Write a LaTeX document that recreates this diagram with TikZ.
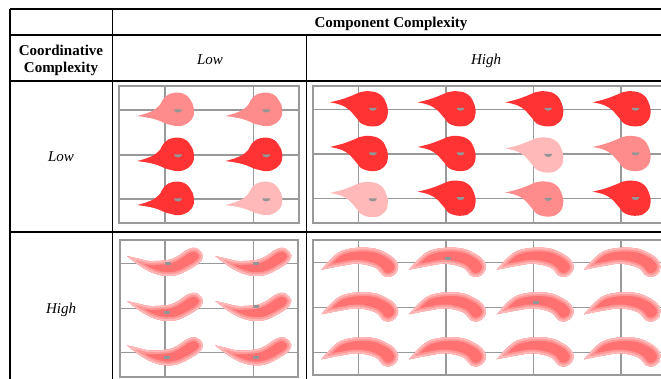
\documentclass[tikz,border=0pt]{standalone}
\usepackage{fontspec}
\setmainfont{Liberation Serif}
\definecolor{gridgray}{HTML}{999999}
\definecolor{dotgray}{HTML}{959595}
\definecolor{dropred}{HTML}{FF3333}
\definecolor{dropmid}{HTML}{FF8C8C}
\definecolor{droplight}{HTML}{FFB9B9}
\definecolor{wormout}{HTML}{FFB8B8}
\definecolor{wormmid}{HTML}{FF9797}
\definecolor{wormin}{HTML}{FF7070}

% teardrop cell, tail pointing left and slightly down
\newcommand\dropDown[3]{%
  \fill[#3,shift={(#1,#2)}] (-41,5) -- plot[smooth,tension=0.75] coordinates {(-41,5) (-28,1) (-19,-5) (-14,-13) (-5,-18) (6,-17) (13,-10) (16,-1) (14,8) (6,14) (-3,15) (-11,13) (-24,8) (-41,5)} -- cycle;
  \fill[dotgray,shift={(#1,#2)}] (4,-1.5) arc[start angle=0,end angle=180,x radius=4,y radius=3] -- cycle;}

% teardrop cell, tail pointing left and slightly up
\newcommand\dropUp[3]{%
  \fill[#3,shift={(#1,#2)}] (-43,-7) -- plot[smooth,tension=0.75] coordinates {(-43,-7) (-31,-10) (-20,-14) (-13,-17) (-3,-18) (7,-15) (13,-7) (15,4) (11,13) (2,17) (-10,15) (-16,9) (-22,2) (-31,-4) (-43,-7)} -- cycle;
  \fill[dotgray,shift={(#1,#2)}] (4,-1.5) arc[start angle=0,end angle=180,x radius=4,y radius=3] -- cycle;}

% outlines of the two elongated cells
\newcommand\wormSmilePath[1]{\path[#1] (-41,-8) -- plot[smooth,tension=0.6] coordinates {(-41,-8) (-28,-5) (-18,-3) (0,-4) (10,-8) (17,-13) (24,-16) (30,-15) (35,-9) (33,-3) (27,2) (12,10) (-1,12) (-15,9) (-28,2) (-41,-8)} -- cycle;}
\newcommand\wormArchPath[1]{\path[#1] (-37,7) -- plot[smooth,tension=0.6] coordinates {(-37,7) (-26,-5) (-16,-12) (0,-15) (17,-14) (29,-9) (36,-4) (40,3) (38,10) (32,14) (25,13) (17,5) (0,1) (-16,3) (-37,7)} -- cycle;}

% layered fill: clip to the outline, then paint inset bands
\newcommand\wormSmile[2]{%
  \begin{scope}[shift={(#1,#2)}]
    \wormSmilePath{clip}
    \wormSmilePath{fill=wormin}
    \wormSmilePath{draw=wormmid,line width=7.5pt}
    \wormSmilePath{draw=wormout,line width=3.6pt}
  \end{scope}}
\newcommand\wormArch[2]{%
  \begin{scope}[shift={(#1,#2)}]
    \wormArchPath{clip}
    \wormArchPath{fill=wormin}
    \wormArchPath{draw=wormmid,line width=7.5pt}
    \wormArchPath{draw=wormout,line width=3.6pt}
  \end{scope}}
\newcommand\smalldot[2]{\fill[dotgray] (#1-3,#2-1.5) rectangle (#1+3,#2+1.5);}

\begin{document}
\begin{tikzpicture}[x=1pt,y=-1pt,
  hrule/.style={line width=2pt},
  vrule/.style={line width=1.3pt},
  frame/.style={draw=gridgray,line width=2pt},
  gridline/.style={draw=gridgray,line width=1.3pt},
  head/.style={font=\fontsize{15}{17}\selectfont\bfseries,anchor=base,inner sep=0pt},
  lab/.style={font=\fontsize{15}{17}\selectfont\itshape,anchor=base,inner sep=0pt}]
\useasboundingbox (0,0) rectangle (661,379);
\clip (0,0) rectangle (661,379);

% ---- panel grids ----
% low / low
\foreach \gx in {165,253.3} \draw[gridline] (\gx,86.5) -- (\gx,223.5);
\foreach \gy in {110,155,199} \draw[gridline] (119,\gy) -- (298.5,\gy);
\draw[frame] (119,86.5) rectangle (298.5,223.5);
% low / high
\foreach \gx in {358.3,446,533.7,621} \draw[gridline] (\gx,86.5) -- (\gx,222.7);
\foreach \gy in {109.3,154,198.7} \draw[gridline] (312.5,\gy) -- (680,\gy);
\draw[frame] (312.5,86.5) rectangle (690,222.7);
% high / low
\foreach \gx in {165,253.3} \draw[gridline] (\gx,240) -- (\gx,376.5);
\foreach \gy in {263.3,308.3,352.7} \draw[gridline] (120,\gy) -- (298.3,\gy);
\draw[frame] (120,240) rectangle (298.3,376.5);
% high / high
\foreach \gx in {358.3,446,533.7,621} \draw[gridline] (\gx,240) -- (\gx,375);
\foreach \gy in {262.7,307.3,352.3} \draw[gridline] (313,\gy) -- (680,\gy);
\draw[frame] (313,240) rectangle (690,375);

% ---- cells: low / low ----
\dropDown{178}{111}{dropmid}
\dropDown{266.3}{111}{dropmid}
\dropDown{178}{156}{dropred}
\dropDown{266.3}{156}{dropred}
\dropDown{178}{200}{dropred}
\dropDown{266.3}{200}{droplight}

% ---- cells: low / high ----
\dropUp{372.8}{109.3}{dropred}
\dropUp{460.5}{109.3}{dropred}
\dropUp{548.2}{109.3}{dropred}
\dropUp{635.5}{109.3}{dropred}
\dropUp{372.8}{154}{dropred}
\dropUp{460.5}{154}{dropred}
\dropUp{548.2}{155.5}{droplight}
\dropUp{635.5}{154}{dropmid}
\dropUp{372.8}{200}{droplight}
\dropUp{460.5}{198.7}{dropred}
\dropUp{548.2}{199.5}{dropmid}
\dropUp{635.5}{198.7}{dropred}

% ---- cells: high / low ----
\foreach \wx in {168,256.3}
  \foreach \wy in {264,309,353.4}
    \wormSmile{\wx}{\wy};
\smalldot{167.5}{264}
\smalldot{255.7}{264}
\smalldot{167}{312.7}
\smalldot{255.7}{306.7}
\smalldot{167}{357.7}
\smalldot{255.7}{357.7}

% ---- cells: high / high ----
\foreach \wx in {358.3,446,533.7,621}
  \foreach \wy in {262.7,307.3,352.3}
    \wormArch{\wx}{\wy};
\smalldot{448.3}{258.3}
\smalldot{535.7}{302.7}

% ---- table rules ----
\draw[hrule] (10,9.5) -- (661,9.5);
\draw[hrule] (10,34.7) -- (661,34.7);
\draw[hrule] (10,81) -- (661,81);
\draw[hrule] (10,232.5) -- (661,232.5);
\draw[vrule] (10,9.5) -- (10,379);
\draw[vrule] (112.5,9.5) -- (112.5,379);
\draw[vrule] (306.5,34.7) -- (306.5,379);

% ---- labels ----
\node[head] (hcomp) at (391,27.5) {Component Complexity};
\node[head] (hcoord1) at (61,56) {Coordinative};
\node[head] (hcoord2) at (61,72.5) {Complexity};
\node[lab] (clow) at (210,65) {Low};
\node[lab] (chigh) at (486,65) {High};
\node[lab] (rlow) at (61,162) {Low};
\node[lab] (rhigh) at (61,313) {High};
\end{tikzpicture}
\end{document}
